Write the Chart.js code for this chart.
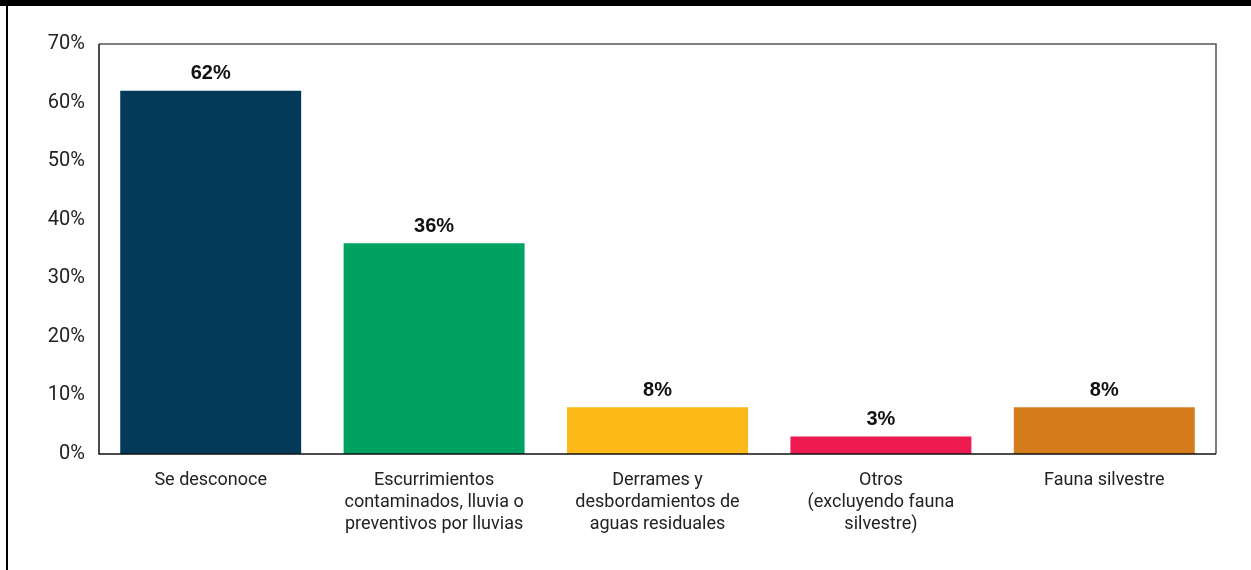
<!DOCTYPE html>
<html>
<head>
<meta charset="utf-8">
<script src="https://cdn.jsdelivr.net/npm/chart.js@4"></script>
<style>
  html, body { margin: 0; padding: 0; background: #fff; }
  #wrap { width: 1251px; height: 570px; position: relative; }
</style>
</head>
<body>
<div id="wrap"><canvas id="chart" width="1251" height="570"></canvas></div>
<script>
const categorias = [
    'Se desconoce',
    ['Escurrimientos', 'contaminados, lluvia o', 'preventivos por lluvias'],
    ['Derrames y', 'desbordamientos de', 'aguas residuales'],
    ['Otros', '(excluyendo fauna', 'silvestre)'],
    'Fauna silvestre'
];
const valores = [62, 36, 8, 3, 8];
const colores = ['#033a5a', '#00a261', '#fbb817', '#ec1a4f', '#d57d1c'];

// Marco del gráfico, líneas de la página y etiquetas de valor
const decoracion = {
    id: 'decoracion',
    afterDatasetsDraw(chart) {
        const c = chart.ctx;
        const a = chart.chartArea;
        c.save();
        // barra superior y línea izquierda
        c.fillStyle = '#000';
        c.fillRect(0, 0, 1251, 6);
        c.fillRect(6, 0, 2, 570);
        // caja del área de trazado
        c.strokeStyle = '#555';
        c.lineWidth = 1.5;
        c.beginPath();
        c.moveTo(a.left, a.top);
        c.lineTo(a.right, a.top);
        c.lineTo(a.right, a.bottom);
        c.stroke();
        c.strokeStyle = '#111';
        c.beginPath();
        c.moveTo(a.left, a.top);
        c.lineTo(a.left, a.bottom);
        c.lineTo(a.right, a.bottom);
        c.stroke();
        // etiquetas
        c.fillStyle = '#111';
        c.font = 'bold 20px "Liberation Sans", Arial, sans-serif';
        c.textAlign = 'center';
        c.textBaseline = 'middle';
        chart.getDatasetMeta(0).data.forEach((bar, i) => {
            c.fillText(valores[i] + '%', bar.x, bar.y - 17);
        });
        c.restore();
    }
};

new Chart(document.getElementById('chart').getContext('2d'), {
    type: 'bar',
    data: {
        labels: categorias,
        datasets: [{
            data: valores,
            backgroundColor: colores,
            barPercentage: 0.81,
            categoryPercentage: 1
        }]
    },
    options: {
        responsive: false,
        animation: false,
        layout: { padding: { top: 44, right: 35, left: 0, bottom: 0 } },
        scales: {
            y: {
                min: 0, max: 70,
                ticks: {
                    stepSize: 10,
                    padding: 14,
                    color: '#222',
                    font: { family: 'Roboto, sans-serif', size: 20 },
                    callback: v => v + '%'
                },
                grid: { display: false, drawTicks: false },
                border: { display: false },
                afterFit(s) { s.width = 99; }
            },
            x: {
                ticks: {
                    padding: 16,
                    color: '#222',
                    maxRotation: 0,
                    autoSkip: false,
                    font: { family: 'Roboto, sans-serif', size: 18, lineHeight: 1.22 }
                },
                grid: { display: false, drawTicks: false },
                border: { display: false },
                afterFit(s) { s.height = 116; }
            }
        },
        plugins: {
            legend: { display: false },
            tooltip: { enabled: false }
        }
    },
    plugins: [decoracion]
});
</script>
</body>
</html>
